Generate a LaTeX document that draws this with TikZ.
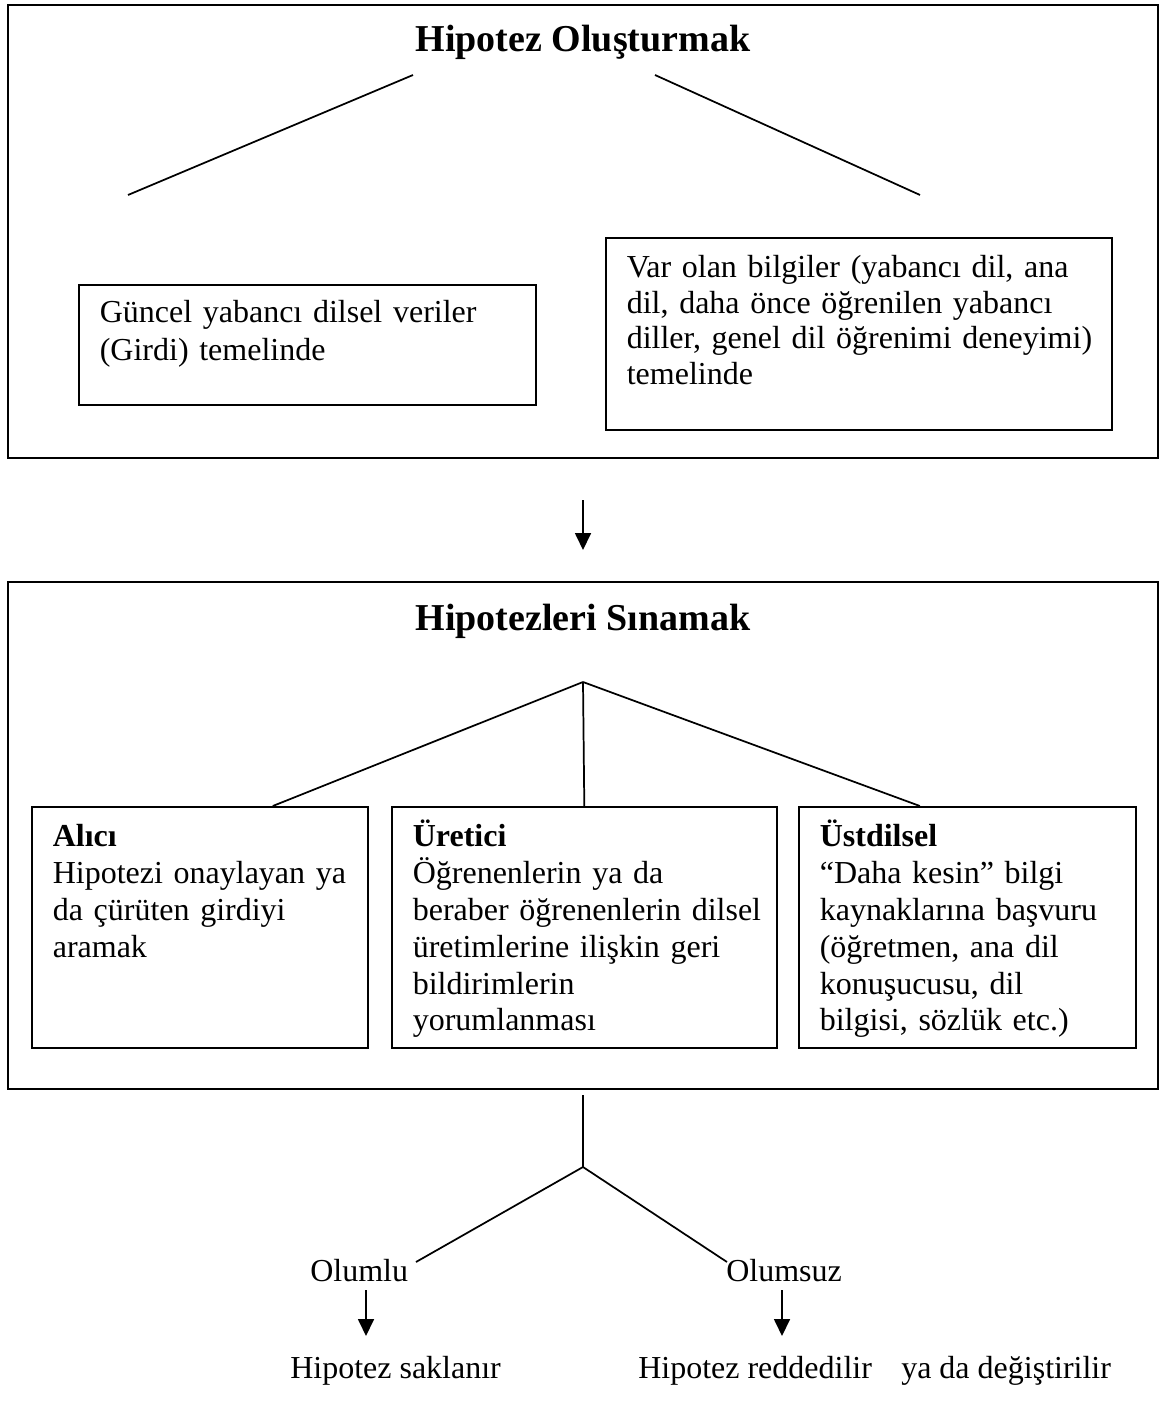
\documentclass[tikz,border=0pt]{standalone}
\usepackage{fontspec}
\setmainfont{Liberation Serif}
\usetikzlibrary{arrows.meta}
\tikzset{
  lbl/.style={inner sep=0pt, font=\fontsize{24}{27.6}\selectfont},
  ttl/.style={inner sep=0pt, font=\bfseries\fontsize{28.5}{32}\selectfont},
  frame/.style={draw, line width=1.3pt, inner sep=0pt, anchor=north west},
  tbox/.style={draw, line width=1.2pt, anchor=north west, inner xsep=15.75pt, inner ysep=0pt,
    align=left, font=\fontsize{24}{27.6}\selectfont},
  lowbox/.style={tbox, text height=30pt, text depth=150.75pt},
  conn/.style={line width=1.3pt},
  arr/.style={line width=1.3pt, -{Triangle[width=12pt,length=12.75pt]}},
}
\begin{document}
\begin{tikzpicture}[x=0.75pt,y=-0.75pt]
\fill[white] (0,0) rectangle (1160,1401);
\useasboundingbox (0,0) rectangle (1160,1401);

% ---------- Box 1 ----------
\node[frame, minimum width=862.5pt, minimum height=339.75pt] (box1) at (7,4) {};
\node[ttl, anchor=base] (t1) at (583,52) {Hipotez Oluşturmak};
\coordinate (l1a) at (128,195);
\coordinate (l1b) at (413,75);
\coordinate (r1a) at (655,75);
\coordinate (r1b) at (920,195);
\draw[conn] (l1a) -- (l1b);
\draw[conn] (r1a) -- (r1b);
\node[tbox, text width=311.25pt, text height=28.5pt, text depth=61.5pt,
      font=\fontsize{24}{28}\selectfont] (gb) at (78,284)
  {\mbox{Güncel yabancı dilsel veriler}\\\mbox{(Girdi) temelinde}};
\node[tbox, text width=348pt, text height=30pt, text depth=114pt,
      font=\fontsize{24}{26.6}\selectfont] (vb) at (605,237)
  {\mbox{Var olan bilgiler (yabancı dil, ana}\\\mbox{dil, daha önce öğrenilen yabancı}\\\mbox{diller, genel dil öğrenimi deneyimi)}\\\mbox{temelinde}};

% ---------- arrow between boxes ----------
\coordinate (a1s) at (583,500);
\coordinate (a1e) at (583,550);
\draw[arr] (a1s) -- (a1e);

% ---------- Box 2 ----------
\node[frame, minimum width=862.5pt, minimum height=380.25pt] (box2) at (7,581) {};
\node[ttl, anchor=base] (t2) at (583,630) {Hipotezleri Sınamak};
\node[lowbox, text width=220.5pt] (al) at (31,806)
  {\mbox{\textbf{Alıcı}}\\\mbox{Hipotezi onaylayan ya}\\\mbox{da çürüten girdiyi}\\\mbox{aramak}};
\node[lowbox, text width=257.25pt] (ur) at (391,806)
  {\mbox{\textbf{Üretici}}\\\mbox{Öğrenenlerin ya da}\\\mbox{beraber öğrenenlerin dilsel}\\\mbox{üretimlerine ilişkin geri}\\\mbox{bildirimlerin}\\\mbox{yorumlanması}};
\node[lowbox, text width=221.25pt] (us) at (798,806)
  {\mbox{\textbf{Üstdilsel}}\\\mbox{“Daha kesin” bilgi}\\\mbox{kaynaklarına başvuru}\\\mbox{(öğretmen, ana dil}\\\mbox{konuşucusu, dil}\\\mbox{bilgisi, sözlük etc.)}};
\coordinate (j2) at (583,682);
\draw[conn] (j2) -- ([xshift=54.75pt]al.north);
\draw[conn] (j2) -- (ur.north);
\draw[conn] (j2) -- ([xshift=-35.6pt]us.north);

% ---------- bottom ----------
\coordinate (v0) at (583,1095);
\coordinate (j3) at (583,1167);
\coordinate (bl) at (416,1262);
\coordinate (br) at (727,1262);
\draw[conn] (v0) -- (j3);
\draw[conn] (j3) -- (bl);
\draw[conn] (j3) -- (br);
\node[lbl, anchor=base west] (ol) at (310,1281) {Olumlu};
\node[lbl, anchor=base west] (os) at (726,1281) {Olumsuz};
\coordinate (a2s) at (366,1290);
\coordinate (a2e) at (366,1336);
\coordinate (a3s) at (782,1290);
\coordinate (a3e) at (782,1336);
\draw[arr] (a2s) -- (a2e);
\draw[arr] (a3s) -- (a3e);
\node[lbl, anchor=base west] (hs) at (290,1378) {Hipotez saklanır};
\node[lbl, anchor=base west] (hr) at (638,1378) {Hipotez reddedilir};
\node[lbl, anchor=base west] (hd) at (901,1378) {ya da değiştirilir};
\end{tikzpicture}
\end{document}
